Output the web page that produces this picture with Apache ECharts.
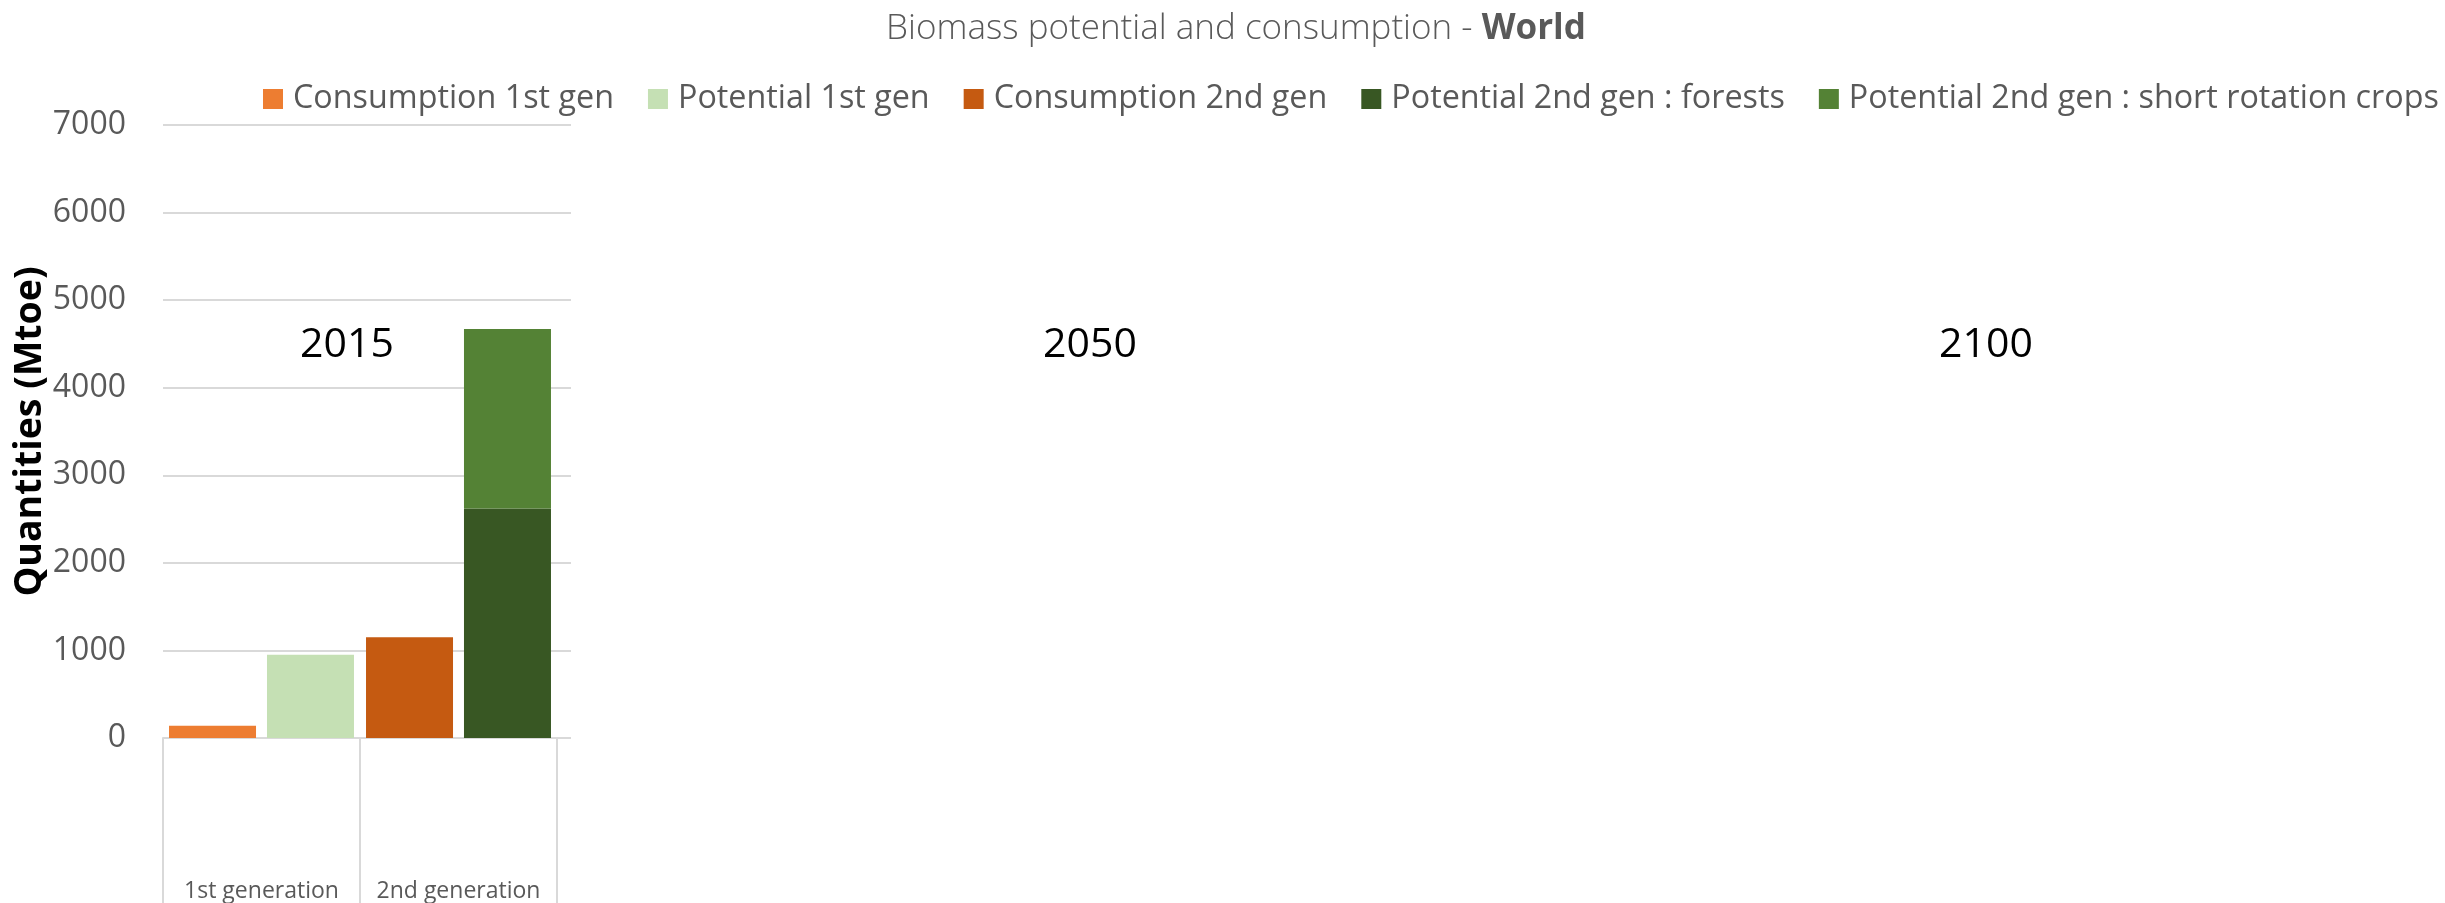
<!DOCTYPE html>
<html>
<head>
    <meta charset="utf-8">
    <title>Biomass potential and consumption - World</title>
    <script src="https://cdn.jsdelivr.net/npm/echarts@6/dist/echarts.min.js"></script>
    <style>
        html, body { margin: 0; padding: 0; background: #fff; }
        #main { width: 2445px; height: 903px; }
    </style>
</head>
<body>
<div id="main"></div>
<script type="text/javascript">
    // data (Mtoe)
    var categories = ['1st generation', '2nd generation'];
    var consumption1st = [140, null];
    var potential1st = [950, null];
    var consumption2nd = [null, 1150];
    var potentialForests = [null, 2620];
    var potentialCrops = [null, 2050];
    var yTicks = {min: 0, max: 7000, step: 1000};
    var years = ['2015', '2050', '2100'];

    // layout only
    var yearX = [347, 1090, 1986];
    var yearY = 345;

    var gray = '#595959';
    var grid = '#d9d9d9';

    var myChart = echarts.init(document.getElementById('main'));

    var titles = [{
        text: '{a|Biomass potential and consumption - }{b|World}',
        left: 1236,
        top: 29,
        padding: 0,
        textAlign: 'center',
        textVerticalAlign: 'middle',
        textStyle: {
            rich: {
                a: {fontFamily: 'Open Sans', fontSize: 35, fontWeight: 300, color: gray},
                b: {fontFamily: 'Open Sans', fontSize: 35, fontWeight: 'bold', color: gray}
            }
        }
    }];
    years.forEach(function (y, i) {
        titles.push({
            text: y,
            left: yearX[i],
            top: yearY,
            padding: 0,
            textAlign: 'center',
            textVerticalAlign: 'middle',
            textStyle: {fontFamily: 'Open Sans', fontSize: 41, fontWeight: 'normal', color: '#000'}
        });
    });

    var option = {
        backgroundColor: '#fff',
        textStyle: {fontFamily: 'Open Sans'},
        animation: false,
        title: titles,
        legend: {
            left: 263,
            top: 79,
            padding: 0,
            icon: 'rect',
            itemWidth: 20,
            itemHeight: 20,
            itemGap: 34,
            textStyle: {fontSize: 32.3, color: gray, lineHeight: 40, padding: [0, 0, 0, 5]},
            data: ['Consumption 1st gen', 'Potential 1st gen', 'Consumption 2nd gen',
                'Potential 2nd gen : forests', 'Potential 2nd gen : short rotation crops']
        },
        grid: [
            {left: 163, top: 125, width: 408, height: 613},
            {left: 163, top: 125, width: 394, height: 613}
        ],
        xAxis: [
            {gridIndex: 0, type: 'value', show: false, min: 0, max: 1},
            {
                gridIndex: 1,
                type: 'category',
                data: categories,
                axisLine: {show: true, lineStyle: {color: grid, width: 2}},
                axisTick: {show: true, interval: 0, length: 170, lineStyle: {color: grid, width: 2}},
                axisLabel: {margin: 142, fontSize: 23, color: gray, interval: 0}
            }
        ],
        yAxis: [
            {
                gridIndex: 0,
                type: 'value',
                min: yTicks.min,
                max: yTicks.max,
                interval: yTicks.step,
                name: 'Quantities (Mtoe)',
                nameLocation: 'middle',
                nameGap: 108,
                nameTextStyle: {fontSize: 37.5, fontWeight: 'bold', color: '#000'},
                axisLine: {show: false},
                axisTick: {show: false},
                axisLabel: {margin: 37, fontSize: 32, color: gray, formatter: function (v) { return String(v); }},
                splitLine: {show: true, lineStyle: {color: grid, width: 2}}
            },
            {gridIndex: 1, type: 'value', min: yTicks.min, max: yTicks.max, show: false}
        ],
        series: [
            {name: 'Consumption 1st gen', type: 'bar', stack: 'cons', xAxisIndex: 1, yAxisIndex: 1,
                barWidth: 87, barGap: '12.6%', itemStyle: {color: '#ED7D31'}, data: consumption1st},
            {name: 'Potential 1st gen', type: 'bar', stack: 'pot', xAxisIndex: 1, yAxisIndex: 1,
                barWidth: 87, barGap: '12.6%', itemStyle: {color: '#C5E0B4'}, data: potential1st},
            {name: 'Consumption 2nd gen', type: 'bar', stack: 'cons', xAxisIndex: 1, yAxisIndex: 1,
                barWidth: 87, barGap: '12.6%', itemStyle: {color: '#C55A11'}, data: consumption2nd},
            {name: 'Potential 2nd gen : forests', type: 'bar', stack: 'pot', xAxisIndex: 1, yAxisIndex: 1,
                barWidth: 87, barGap: '12.6%', itemStyle: {color: '#385723'}, data: potentialForests},
            {name: 'Potential 2nd gen : short rotation crops', type: 'bar', stack: 'pot', xAxisIndex: 1, yAxisIndex: 1,
                barWidth: 87, barGap: '12.6%', itemStyle: {color: '#548235'}, data: potentialCrops}
        ]
    };

    myChart.setOption(option);
</script>
</body>
</html>
